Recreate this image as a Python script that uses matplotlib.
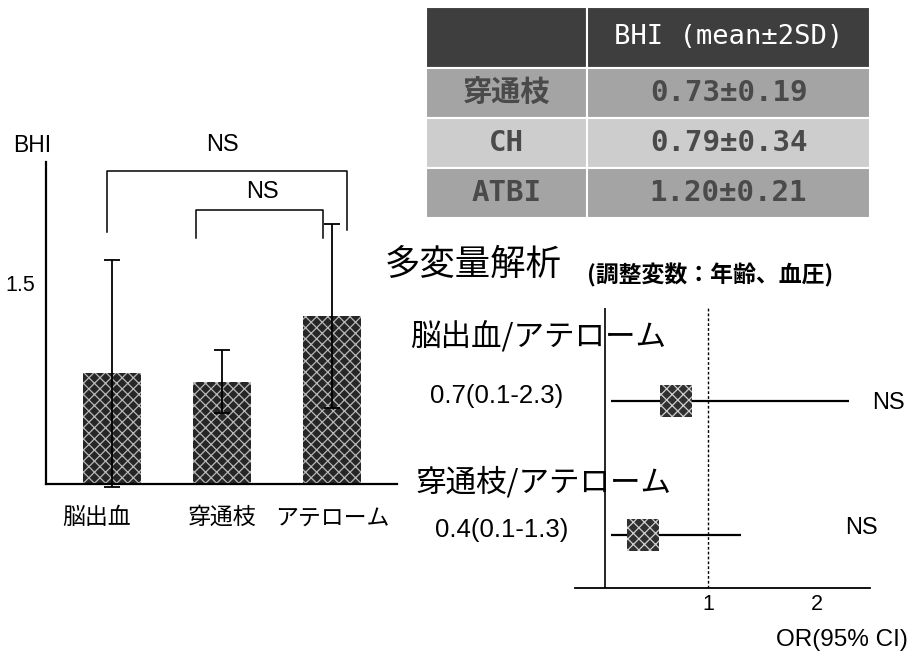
import matplotlib
matplotlib.use("Agg")
import matplotlib.pyplot as plt
from matplotlib.transforms import ScaledTranslation, blended_transform_factory

# ---------------- data ----------------
# BHI by stroke subtype (bar chart)
groups = ["脳出血", "穿通枝", "アテローム"]
bhi_mean = [0.79, 0.73, 1.20]
bhi_err = [0.81, 0.225, 0.655]
bhi_ticks = [1.5]

# summary table
table_header = "BHI (mean±2SD)"
table_rows = ["穿通枝", "CH", "ATBI"]
table_vals = ["0.73±0.19", "0.79±0.34", "1.20±0.21"]

# multivariate odds ratios (forest plot)
or_labels = ["脳出血/アテローム", "穿通枝/アテローム"]
or_est = [0.7, 0.4]
or_lo = [0.1, 0.1]
or_hi = [2.3, 1.3]
or_sig = ["NS", "NS"]
or_ticks = [1, 2]

# ---------------- layout helpers ----------------
W, H = 910, 655
fig = plt.figure(figsize=(W / 100, H / 100), dpi=100)
fig.patch.set_facecolor("white")


def fx(px):
    return px / W


def fy(py):
    return 1 - py / H


def box(x0, y0, x1, y1):
    return [fx(x0), fy(y1), fx(x1) - fx(x0), fy(y0) - fy(y1)]


LAT = ["Liberation Sans", "DejaVu Sans"]
JP = ["Noto Sans CJK JP", "DejaVu Sans"]
MONO = ["DejaVu Sans Mono", "Noto Sans CJK JP"]
plt.rcParams["hatch.linewidth"] = 0.9

# ---------------- bar chart ----------------
ax = fig.add_axes(box(46, 162, 397, 484))
xpos = list(range(len(groups)))
ax.bar(xpos, bhi_mean, width=0.53, color="#262626", edgecolor="#b8b8b8",
       hatch="xxx", linewidth=0, zorder=2)
ax.errorbar(xpos, bhi_mean, yerr=bhi_err, fmt="none", ecolor="black",
            elinewidth=1.3, capsize=5.5, capthick=1.3, zorder=3, clip_on=False)
ax.set_xlim(-0.6, 2.59)
ax.set_ylim(0, 2.3)
for s in ("top", "right"):
    ax.spines[s].set_visible(False)
ax.spines["left"].set_linewidth(1.6)
ax.spines["bottom"].set_linewidth(1.6)
ax.set_xticks(xpos)
ax.set_xticklabels(groups, fontfamily=JP, fontsize=16.5)
ax.set_yticks(bhi_ticks)
ax.set_yticklabels([f"{v:g}" for v in bhi_ticks], fontfamily=LAT, fontsize=15.5)
ax.tick_params(axis="both", length=0)
ax.tick_params(axis="x", pad=16)
ax.tick_params(axis="y", pad=8)
for lab in ax.get_yticklabels():
    lab.set_transform(lab.get_transform() + ScaledTranslation(0, -0.09, fig.dpi_scale_trans))
# first category label sits a little left of its bar
xlabs = ax.get_xticklabels()
xlabs[0].set_transform(xlabs[0].get_transform() + ScaledTranslation(-0.15, 0, fig.dpi_scale_trans))
ax.text(-0.725, 2.42, "BHI", fontfamily=LAT, fontsize=16.5, ha="center", va="center",
        transform=ax.transData, clip_on=False)

# significance brackets
def bracket(x0, x1, top, leg0, leg1, label_x, label_y):
    ax.plot([x0, x0, x1, x1], [leg0, top, top, leg1], color="black", lw=1.1,
            clip_on=False, zorder=3)
    ax.text(label_x, label_y, "NS", fontfamily=LAT, fontsize=17,
            ha="center", va="center", clip_on=False)

bracket(-0.045, 2.136, 2.236, 1.80, 1.814, 1.0, 2.42)
bracket(0.764, 1.918, 1.957, 1.757, 1.757, 1.37, 2.086)

# ---------------- summary table ----------------
tax = fig.add_axes(box(426, 7, 870, 218))
tax.axis("off")
cell_text = [[r, v] for r, v in zip(table_rows, table_vals)]
row_colors = ["#a4a4a4", "#cdcdcd", "#a4a4a4"]
tbl = tax.table(cellText=cell_text, colLabels=["", table_header],
                cellColours=[[c, c] for c in row_colors],
                colColours=["#3e3e3e", "#3e3e3e"],
                colWidths=[161, 283], bbox=[0, 0, 1, 1])
tbl.auto_set_font_size(False)
for (r, c), cell in tbl.get_celld().items():
    cell.set_edgecolor("white")
    cell.set_linewidth(1.5)
    cell.set_height(61 if r == 0 else 50)
    t = cell.get_text()
    t.set_fontfamily(MONO)
    t.set_ha("center")
    cell._loc = "center"
    if r == 0:
        t.set_color("white")
        t.set_fontsize(19.5)
    else:
        t.set_color("#4a4a4a")
        t.set_fontsize(21)
        t.set_fontweight("bold")

# ---------------- forest plot ----------------
fax = fig.add_axes(box(575, 308, 870, 588))
rows = [1, 0]
fax.hlines(rows, or_lo, or_hi, color="black", lw=1.6, zorder=2)
fax.scatter(or_est, rows, marker="s", s=23 ** 2, color="#303030",
            edgecolor="#d0d0d0", hatch="xxx", linewidths=0, zorder=3)
fax.axvline(0.05, color="black", lw=1.2)
fax.axvline(1, color="black", lw=1.0, ls=(0, (2, 1.5)))
fax.set_xlim(-0.23, 2.49)
fax.set_ylim(-0.396, 1.694)
for s in ("top", "right", "left"):
    fax.spines[s].set_visible(False)
fax.spines["bottom"].set_linewidth(1.3)
fax.set_yticks([])
fax.set_xticks(or_ticks)
fax.set_xticklabels([str(t) for t in or_ticks], fontfamily=LAT, fontsize=15.5)
fax.tick_params(axis="x", length=0, pad=4)

blend = blended_transform_factory(fig.transFigure, fax.transData)
lab_x = [fx(497), fx(502)]
for r, e, lo, hi, lx in zip(rows, or_est, or_lo, or_hi, lab_x):
    fax.text(lx, r + 0.04, f"{e:g}({lo:g}-{hi:g})", transform=blend,
             fontfamily=LAT, fontsize=18.5, ha="center", va="center")

sig_x = [fx(872), fx(845)]
sig_dy = [-0.015, 0.05]
for r, s, sx, dy in zip(rows, or_sig, sig_x, sig_dy):
    fax.text(sx, r + dy, s, transform=blend, fontfamily=LAT, fontsize=17,
             ha="left", va="center")

head_pos = [(410, 337), (415, 483)]
for lab, (px, py) in zip(or_labels, head_pos):
    fig.text(fx(px), fy(py), lab, fontfamily=JP, fontsize=22, ha="left", va="center")

fig.text(fx(385), fy(265), "多変量解析", fontfamily=JP, fontsize=25.5,
         ha="left", va="center")
fig.text(fx(587), fy(275), "(調整変数：年齢、血圧)", fontfamily=JP, fontsize=16.5,
         fontweight="bold", ha="left", va="center")
fig.text(fx(908), fy(640), "OR(95% CI)", fontfamily=LAT, fontsize=17.5,
         ha="right", va="center")

fig.savefig("out.png", dpi=100)
